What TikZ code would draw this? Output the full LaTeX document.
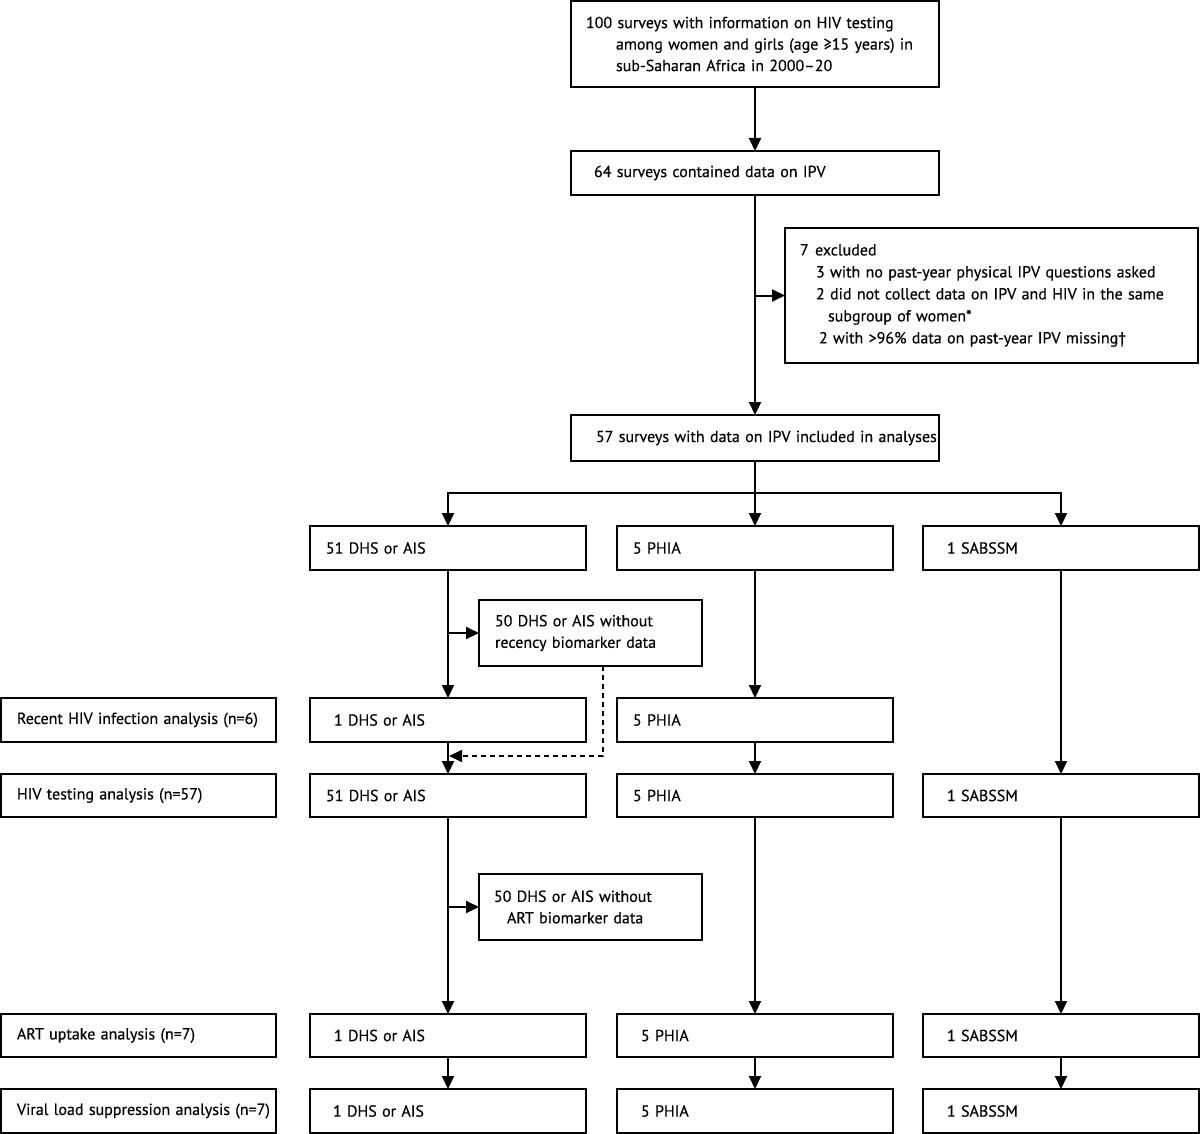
\documentclass[tikz,border=0pt]{standalone}
\usepackage{fontspec}
\setmainfont{PT Sans}[FakeBold=0.4]
\usetikzlibrary{arrows.meta}
\newcommand\indt[1]{\hspace*{#1pt}}
\newcommand\boxfont{\fontsize{16}{21.5}\selectfont\spaceskip=2.9pt plus 1pt minus 0.5pt\relax}
\newcommand\exclfont{\fontsize{16}{22}\selectfont\spaceskip=2.9pt plus 1pt minus 0.5pt\relax}
\begin{document}
\begin{tikzpicture}[x=1pt,y=-1pt,
  box/.style={draw, line width=2pt, anchor=north west, inner ysep=0pt, inner xsep=0pt, outer sep=0pt,
    align=left, font=\boxfont},
  arr/.style={line width=2pt, -{Triangle[length=13pt,width=12pt]}},
  dsh/.style={line width=2pt, dash pattern=on 5pt off 4pt, -{Triangle[length=13pt,width=12pt]}},
]
\useasboundingbox (0,0) rectangle (1200,1134);
% top part
\node[box, text width=368pt, minimum height=86pt] (top) at (571,1)
  {\indt{15}100 surveys with information on HIV testing\\\indt{45}among women and girls (age ≥15 years) in\\\indt{45}sub-Saharan Africa in 2000–20};
\node[box, text width=368pt, minimum height=44pt] (b64) at (571,151)
  {\indt{23}64 surveys contained data on IPV};
\node[box, text width=413pt, minimum height=135pt, font=\exclfont] (excl) at (785,228)
  {\indt{15}7\hspace{0.4em}excluded\\
   \indt{31}3 with no past-year physical IPV questions asked\\
   \indt{31}2 did not collect data on IPV and HIV in the same\\
   \indt{43}subgroup of women*\\
   \indt{34}2 with >96\% data on past-year IPV missing†};
\node[box, text width=368pt, minimum height=46pt] (b57) at (571,415)
  {\indt{25}57 surveys with data on IPV included in analyses};
% row 1
\node[box, text width=276pt, minimum height=44pt] (c1r1) at (310,526) {\indt{16}51 DHS or AIS};
\node[box, text width=276pt, minimum height=44pt] (c2r1) at (617,526) {\indt{16}5 PHIA};
\node[box, text width=276pt, minimum height=44pt] (c3r1) at (923,526) {\indt{24}1 SABSSM};
% recency exclusion
\node[box, text width=223pt, minimum height=66pt] (rec) at (479,600)
  {\indt{16}50 DHS or AIS without\\\indt{16}recency biomarker data};
% row 2
\node[box, text width=275pt, minimum height=44pt] (lab1) at (1,698) {\indt{16}Recent HIV infection analysis (n=6)};
\node[box, text width=276pt, minimum height=44pt] (c1r2) at (310,698) {\indt{24}1 DHS or AIS};
\node[box, text width=276pt, minimum height=44pt] (c2r2) at (617,698) {\indt{16}5 PHIA};
% row 3
\node[box, text width=275pt, minimum height=43pt] (lab2) at (1,774) {\indt{16}HIV testing analysis (n=57)};
\node[box, text width=276pt, minimum height=43pt] (c1r3) at (310,774) {\indt{16}51 DHS or AIS};
\node[box, text width=276pt, minimum height=43pt] (c2r3) at (617,774) {\indt{16}5 PHIA};
\node[box, text width=276pt, minimum height=43pt] (c3r3) at (923,774) {\indt{24}1 SABSSM};
% ART exclusion
\node[box, text width=223pt, minimum height=66pt] (art) at (479,874)
  {\indt{15}50 DHS or AIS without\\\indt{28}ART biomarker data};
% row 4
\node[box, text width=275pt, minimum height=43pt] (lab3) at (1,1014) {\indt{16}ART uptake analysis (n=7)};
\node[box, text width=276pt, minimum height=43pt] (c1r4) at (310,1014) {\indt{24}1 DHS or AIS};
\node[box, text width=276pt, minimum height=43pt] (c2r4) at (617,1014) {\indt{24}5 PHIA};
\node[box, text width=276pt, minimum height=43pt] (c3r4) at (923,1014) {\indt{24}1 SABSSM};
% row 5
\node[box, text width=275pt, minimum height=44pt] (lab4) at (1,1089) {\indt{16}Viral load suppression analysis (n=7)};
\node[box, text width=276pt, minimum height=44pt] (c1r5) at (310,1089) {\indt{23}1 DHS or AIS};
\node[box, text width=276pt, minimum height=44pt] (c2r5) at (617,1089) {\indt{24}5 PHIA};
\node[box, text width=276pt, minimum height=44pt] (c3r5) at (923,1089) {\indt{24}1 SABSSM};
% connectors
\draw[arr] (top.south) -- (b64.north);
\draw[arr] (b64.south) -- (b57.north);
\draw[arr] (b64.south |- excl.west) -- (excl.west);
\draw[arr] (b57.south) -- (b57.south |- c2r1.north);
\coordinate (hb) at (755,493);
\draw[arr] (hb) -| (c1r1.north);
\draw[arr] (hb) -| (c3r1.north);
% column 1
\draw[arr] (c1r1.south) -- (c1r2.north);
\draw[arr] (c1r1.south |- rec.west) -- (rec.west);
\draw[arr] (c1r2.south) -- (c1r3.north);
\coordinate (dtop) at (603,666);
\coordinate (dend) at (449,756);
\draw[dsh] (dtop) |- (dend);
\draw[arr] (c1r3.south) -- (c1r4.north);
\draw[arr] (c1r3.south |- art.west) -- (art.west);
\draw[arr] (c1r4.south) -- (c1r5.north);
% column 2
\draw[arr] (c2r1.south) -- (c2r2.north);
\draw[arr] (c2r2.south) -- (c2r3.north);
\draw[arr] (c2r3.south) -- (c2r4.north);
\draw[arr] (c2r4.south) -- (c2r5.north);
% column 3
\draw[arr] (c3r1.south) -- (c3r3.north);
\draw[arr] (c3r3.south) -- (c3r4.north);
\draw[arr] (c3r4.south) -- (c3r5.north);
\end{tikzpicture}
\end{document}
